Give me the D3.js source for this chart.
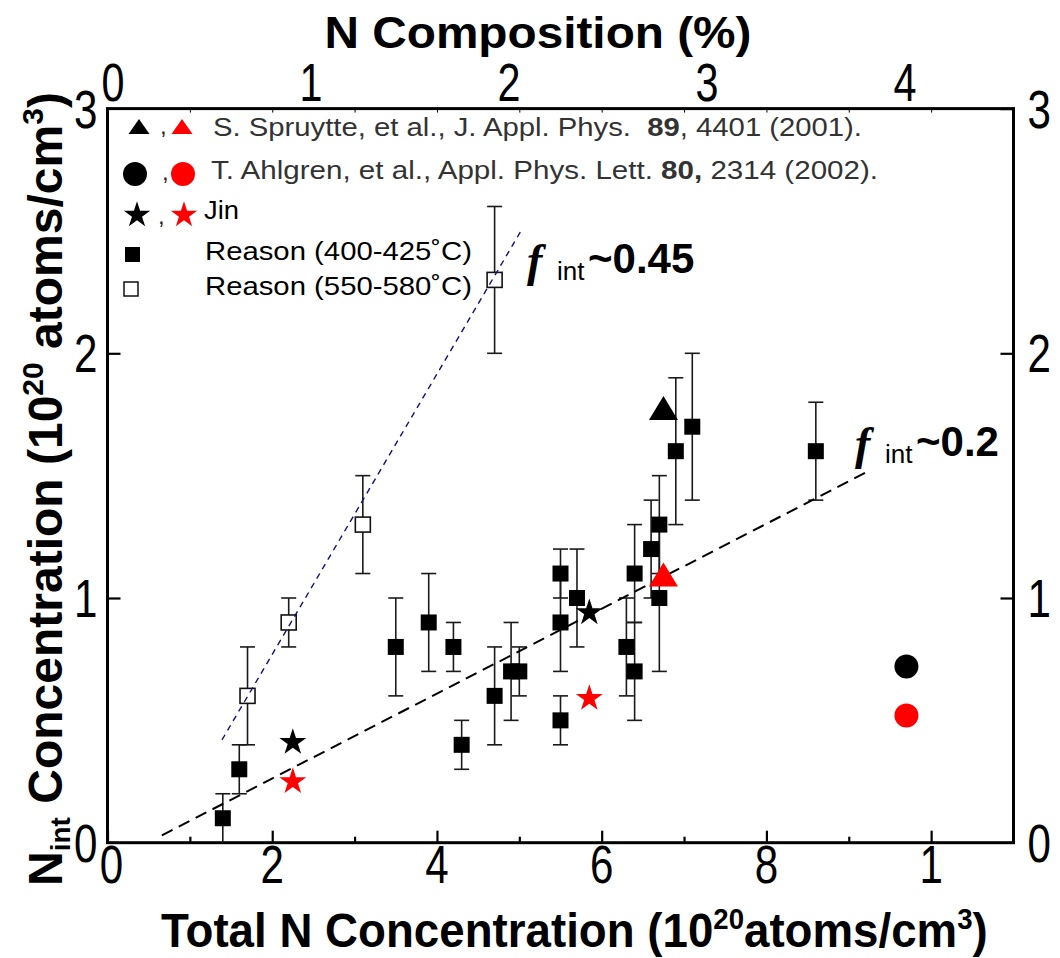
<!DOCTYPE html>
<html><head><meta charset="utf-8">
<script src="https://cdn.jsdelivr.net/npm/d3@7"></script>
<style>body{margin:0;background:#fff}svg{display:block}</style>
</head><body>
<svg id="c" width="1060" height="958"></svg>
<script>
// ---------- data ----------
// [total N (1e20 cm^-3), Nint (1e20 cm^-3), error]
const reason400 = [[1.4,0.1,0.1],[1.6,0.3,0.1],[3.5,0.8,0.2],[3.9,0.9,0.2],[4.2,0.8,0.1],[4.3,0.4,0.1],
  [4.7,0.6,0.2],[4.9,0.7,0.2],[5.0,0.7,0.1],[5.5,1.1,0.1],[5.5,0.9,0.2],[5.5,0.5,0.1],[5.7,1.0,0.2],
  [6.3,0.8,0.2],[6.4,1.1,0.2],[6.4,0.7,0.2],[6.6,1.2,0.2],[6.7,1.3,0.2],[6.7,1.0,0.3],[6.9,1.6,0.3],
  [7.1,1.7,0.3],[8.6,1.6,0.2]];
const reason550 = [[1.7,0.6,0.2],[2.2,0.9,0.1],[3.1,1.3,0.2],[4.7,2.3,0.3]];
const spruytteBlack = [[6.75,1.76]];
const spruytteRed = [[6.75,1.08]];
const ahlgrenBlack = [[9.7,0.72]];
const ahlgrenRed = [[9.7,0.52]];
const jinBlack = [[2.25,0.41],[5.85,0.94]];
const jinRed = [[2.25,0.25],[5.85,0.59]];
const fit02 = [[0.66,0.03],[9.22,1.515]];
const fit045 = [[1.39,0.42],[5.02,2.50]];
const xTicksMajor = [0,2,4,6,8,10];
const xTickLabels = ["0","2","4","6","8","1"];
const xTicksMinor = [1,3,5,7,9];
const yTicks = [0,1,2,3];
const yTickLabels = ["0","1","2","3"];
const topTicks = [0,1,2,3,4];
const topTickLabels = ["0","1","2","3","4"];

// ---------- setup ----------
const SANS = "'Liberation Sans',Arial,sans-serif";
const svg = d3.select("#c");
const x = d3.scaleLinear().domain([0,11]).range([107.5,1013.5]);
const y = d3.scaleLinear().domain([0,3]).range([842.7,108.6]);
const xTop = d3.scaleLinear().domain([-0.028,4.548]).range([107.5,1013.5]);
const [L,R] = x.range(), [B,T] = y.range();

// narrow text: horizontally compressed Liberation Sans (Arial Narrow look)
function nText(parent, tx, ty, opts){
  const g = parent.append("g");
  const t = g.append("text").attr("x",0).attr("y",0)
    .attr("font-family",SANS).attr("font-size",opts.size)
    .attr("font-weight",opts.bold?"bold":"normal").attr("fill","#000")
    .attr("text-anchor",opts.anchor||"start");
  opts.build(t);
  let s = opts.scale || 0.78;
  if (opts.width){ s = opts.width / t.node().getBBox().width; }
  g.attr("transform",`translate(${tx},${ty})${opts.rot?` rotate(${opts.rot})`:""} scale(${s},1)`);
  return g;
}

// ---------- axes (ticks) ----------
function styleAxis(g){
  g.select(".domain").remove();
  g.selectAll("line").attr("stroke","#000").attr("stroke-width",2.2);
  g.selectAll("text").remove();
}
svg.append("g").attr("transform",`translate(0,${B})`)
  .call(d3.axisBottom(x).tickValues(xTicksMajor).tickSize(-12)).call(styleAxis);
svg.append("g").attr("transform",`translate(0,${B})`)
  .call(d3.axisBottom(x).tickValues(xTicksMinor).tickSize(-6)).call(styleAxis);
svg.append("g").attr("transform",`translate(0,${T})`)
  .call(d3.axisTop(x).tickValues(d3.range(1,11)).tickSize(-4)).call(styleAxis)
  .selectAll("line").attr("stroke-width",1);
svg.append("g").attr("transform",`translate(${L},0)`)
  .call(d3.axisLeft(y).tickValues([1,2]).tickSize(-13)).call(styleAxis);
svg.append("g").attr("transform",`translate(${R},0)`)
  .call(d3.axisRight(y).tickValues([1,2,3]).tickSize(-13)).call(styleAxis);

// tick labels
const lab = svg.append("g");
xTicksMajor.forEach((v,i)=>nText(lab, x(v)+(i===0?4:0), B+40, {size:54, anchor:"middle", build:t=>t.text(xTickLabels[i])}));
topTicks.forEach((v,i)=>nText(lab, xTop(v), 101, {size:53, anchor:"middle", build:t=>t.text(topTickLabels[i])}));
yTicks.forEach((v,i)=>nText(lab, L-10, y(v)+19, {size:54, anchor:"end", build:t=>t.text(yTickLabels[i])}));
yTicks.forEach((v,i)=>nText(lab, R+14, y(v)+19, {size:54, anchor:"start", build:t=>t.text(yTickLabels[i])}));

// frame
svg.append("rect").attr("x",L).attr("y",T).attr("width",R-L).attr("height",B-T)
  .attr("fill","none").attr("stroke","#000").attr("stroke-width",3);

// ---------- titles ----------
nText(svg, 538, 48, {size:45, bold:true, anchor:"middle", width:427, build:t=>t.text("N Composition (%)")});
nText(svg, 161, 947, {size:48, bold:true, width:827, build:t=>{
  t.append("tspan").text("Total N Concentration (10");
  t.append("tspan").attr("dy",-18).attr("font-size",29).text("20");
  t.append("tspan").attr("dy",18).text("atoms/cm");
  t.append("tspan").attr("dy",-18).attr("font-size",29).text("3");
  t.append("tspan").attr("dy",18).text(")");
}});
nText(svg, 62, 886, {size:48, bold:true, rot:-90, width:794, build:t=>{
  t.append("tspan").text("N");
  t.append("tspan").attr("dy",8).attr("font-size",28).text("int");
  t.append("tspan").attr("dy",-8).text(" Concentration (10");
  t.append("tspan").attr("dy",-19).attr("font-size",30).text("20");
  t.append("tspan").attr("dy",19).text(" atoms/cm");
  t.append("tspan").attr("dy",-19).attr("font-size",30).text("3");
  t.append("tspan").attr("dy",19).text(")");
}});

// ---------- fit lines / error bars / markers ----------
const line = d3.line().x(d=>x(d[0])).y(d=>y(d[1]));

const errG = svg.append("g").attr("stroke","#1a1a1a").attr("stroke-width",1.6);
reason400.concat(reason550).forEach(d=>{
  const cx=x(d[0]), y1=y(Math.max(0,d[1]-d[2])), y2=y(d[1]+d[2]);
  errG.append("line").attr("x1",cx).attr("x2",cx).attr("y1",y1).attr("y2",y2);
  errG.append("line").attr("x1",cx-7.5).attr("x2",cx+7.5).attr("y1",y2).attr("y2",y2);
  if (d[1]-d[2] > 0.001) errG.append("line").attr("x1",cx-7.5).attr("x2",cx+7.5).attr("y1",y1).attr("y2",y1);
});

function tri(w,h){ return `M0,${-h*2/3}L${w/2},${h/3}L${-w/2},${h/3}Z`; }
const star = d3.symbol(d3.symbolStar,225)();
const starLeg = d3.symbol(d3.symbolStar,215)();

svg.append("g").selectAll("rect").data(reason400).join("rect")
  .attr("x",d=>x(d[0])-8).attr("y",d=>y(d[1])-8).attr("width",16).attr("height",16).attr("fill","#000");
svg.append("g").selectAll("rect").data(reason550).join("rect")
  .attr("x",d=>x(d[0])-7.5).attr("y",d=>y(d[1])-7.5).attr("width",15).attr("height",15)
  .attr("fill","#fff").attr("stroke","#111").attr("stroke-width",1.6);

svg.append("path").datum(fit045).attr("d",line).attr("fill","none")
  .attr("stroke","#10107a").attr("stroke-width",1.4).attr("stroke-dasharray","6,5");
svg.append("path").datum(fit02).attr("d",line).attr("fill","none")
  .attr("stroke","#000").attr("stroke-width",2).attr("stroke-dasharray","12,7");

function pts(data,shape,color){
  svg.append("g").selectAll("path").data(data).join("path")
    .attr("transform",d=>`translate(${x(d[0])},${y(d[1])})`).attr("d",shape).attr("fill",color);
}
pts(spruytteBlack,tri(29,24),"#000");
pts(spruytteRed,tri(29,24),"#ff0000");
pts(jinBlack,star,"#000");
pts(jinRed,star,"#ff0000");
svg.append("g").selectAll("circle").data(ahlgrenBlack).join("circle")
  .attr("cx",d=>x(d[0])).attr("cy",d=>y(d[1])).attr("r",12).attr("fill","#000");
svg.append("g").selectAll("circle").data(ahlgrenRed).join("circle")
  .attr("cx",d=>x(d[0])).attr("cy",d=>y(d[1])).attr("r",12).attr("fill","#ff0000");

// ---------- annotations ----------
function fAnn(xp,yp,val){
  const g = svg.append("g");
  g.append("text").attr("x",xp).attr("y",yp+3).attr("font-family","'Liberation Serif','Times New Roman',serif")
    .attr("font-style","italic").attr("font-weight","bold").attr("font-size",46).text("f");
  g.append("text").attr("x",xp+30).attr("y",yp+7).attr("font-family",SANS).attr("font-size",26).text("int");
  g.append("text").attr("x",xp+61).attr("y",yp).attr("font-family",SANS).attr("font-weight","bold")
    .attr("font-size",42).text("~"+val);
}
fAnn(527,273,"0.45");
fAnn(855,456,"0.2");

// ---------- legend ----------
const lg = svg.append("g");
lg.append("path").attr("transform","translate(139,129)").attr("d",tri(21,15)).attr("fill","#000");
lg.append("path").attr("transform","translate(182,129)").attr("d",tri(21,15)).attr("fill","#ff0000");
lg.append("circle").attr("cx",135).attr("cy",174).attr("r",12).attr("fill","#000");
lg.append("circle").attr("cx",183).attr("cy",174).attr("r",12).attr("fill","#ff0000");
lg.append("path").attr("transform","translate(137,215)").attr("d",starLeg).attr("fill","#000");
lg.append("path").attr("transform","translate(184,215)").attr("d",starLeg).attr("fill","#ff0000");
lg.append("rect").attr("x",125).attr("y",247).attr("width",15).attr("height",15).attr("fill","#000");
lg.append("rect").attr("x",124).attr("y",282).attr("width",14).attr("height",14).attr("fill","#fff")
  .attr("stroke","#111").attr("stroke-width",1.5);
[[160,134],[162,180],[158,224]].forEach(p=>lg.append("text").attr("x",p[0]).attr("y",p[1])
  .attr("font-family",SANS).attr("font-size",24).attr("fill","#222").text(","));

function legText(xp,yp,len,parts,color){
  const t = lg.append("text").attr("x",xp).attr("y",yp).attr("font-family",SANS).attr("font-size",25)
    .attr("fill",color).attr("textLength",len).attr("lengthAdjust","spacingAndGlyphs")
    .style("white-space","pre");
  parts.forEach(p=>t.append("tspan").attr("font-weight",p[1]?"bold":null).text(p[0]));
}
legText(213,136,649,[["S. Spruytte, et al., J. Appl. Phys.  ",0],["89",1],[", 4401 (2001).",0]],"#333");
legText(211,179,667,[["T. Ahlgren, et al., Appl. Phys. Lett. ",0],["80,",1],[" 2314 (2002).",0]],"#333");
legText(204,219,35,[["Jin",0]],"#000");
legText(205,260,267,[["Reason (400-425˚C)",0]],"#000");
legText(205,295,267,[["Reason (550-580˚C)",0]],"#000");
</script>
</body></html>
